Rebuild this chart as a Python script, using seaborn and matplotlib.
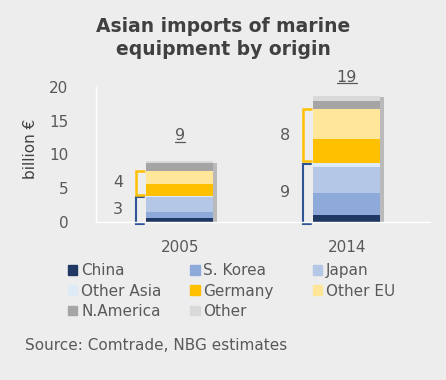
import numpy as np
import pandas as pd
import seaborn as sns
import matplotlib.pyplot as plt
from matplotlib.patches import Patch
from matplotlib.lines import Line2D
import matplotlib.patheffects as pe

# data (billion EUR)
years = ['2005', '2014']
origins = ['China', 'S. Korea', 'Japan', 'Other Asia',
           'Germany', 'Other EU', 'N.America', 'Other']
china = [0.6, 1.0]
s_korea = [0.9, 3.3]
japan = [2.2, 3.8]
other_asia = [0.1, 0.7]
germany = [1.8, 3.5]
other_eu = [2.0, 4.4]
n_america = [1.1, 1.3]
other = [0.3, 0.7]
asia_labels = ['3', '9']
eu_labels = ['4', '8']
total_labels = ['9', '19']

colors = ['#1f3864', '#8eaadb', '#b4c7e7', '#deebf7',
          '#ffc000', '#ffe699', '#a5a5a5', '#d9d9d9']
bg = '#ededed'
txt = '#595959'

df = pd.DataFrame({'year': years, 'China': china, 'S. Korea': s_korea,
                   'Japan': japan, 'Other Asia': other_asia,
                   'Germany': germany, 'Other EU': other_eu,
                   'N.America': n_america, 'Other': other})
cum = df[origins].cumsum(axis=1)
cum['year'] = df['year']

sns.set_style('white')
plt.rcParams['font.family'] = ['DejaVu Sans']

fig = plt.figure(figsize=(4.46, 3.8), dpi=100, facecolor=bg)
ax = fig.add_axes([0.216, 0.416, 0.749, 0.355])
ax.set_facecolor(bg)

# stacked bars: draw cumulative totals from the top down
for i in reversed(range(len(origins))):
    sns.barplot(data=cum, x='year', y=origins[i], color=colors[i],
                saturation=1, width=0.4, ax=ax, linewidth=0)
    if i == len(origins) - 1:
        for p in ax.patches:
            p.set_path_effects([pe.SimplePatchShadow(offset=(3, -1), shadow_rgbFace='#888888', alpha=0.5),
                                pe.Normal()])

ax.set_xlim(-0.5, 1.5)
ax.set_ylim(0, 20)
ax.set_yticks([0, 5, 10, 15, 20])
ax.set_xlabel('')
ax.set_ylabel('billion €', color='#404040', fontsize=11)
ax.yaxis.set_label_coords(-0.175, 0.54)
ax.tick_params(colors=txt, labelsize=11, length=0)
ax.tick_params(axis='y', pad=20)
ax.tick_params(axis='x', pad=13)
for s in ['top', 'right']:
    ax.spines[s].set_visible(False)
for s in ['left', 'bottom']:
    ax.spines[s].set_color('white')
    ax.spines[s].set_linewidth(1)

asia_top = cum['Other Asia'].values
eu_top = cum['Other EU'].values
tot = cum['Other'].values
offsets = [13, 8]
tot_texts = []
for k in range(len(years)):
    left = k - 0.2
    xb = left - 0.065
    xt = left - 0.015
    # Asia bracket
    lo, hi = 0.05, asia_top[k] - 0.15
    ax.plot([xt, xb, xb, xt], [lo - 0.3, lo - 0.3, hi, hi], color='#2f5597',
            lw=1.5, clip_on=False, solid_joinstyle='miter')
    ax.text(left - 0.17, (lo + hi) / 2, asia_labels[k], ha='center', va='center',
            color=txt, fontsize=11.5)
    # EU bracket
    lo, hi = asia_top[k] + 0.2, eu_top[k]
    ax.plot([xt, xb, xb, xt], [lo, lo, hi, hi], color='#ffc000',
            lw=1.8, clip_on=False, solid_joinstyle='miter')
    ax.text(left - 0.17, (lo + hi) / 2, eu_labels[k], ha='center', va='center',
            color=txt, fontsize=11.5)
    t = ax.annotate(total_labels[k], (k, tot[k]),
                    xytext=(0, offsets[k]), textcoords='offset points',
                    ha='center', va='bottom', color=txt, fontsize=11.5,
                    annotation_clip=False)
    tot_texts.append(t)

fig.text(0.5, 0.9, 'Asian imports of marine\nequipment by origin',
         ha='center', va='center', fontsize=13.5, fontweight='bold',
         color='#404040', linespacing=1.25)

# legend: three evenly spaced columns, filled row by row
handles = [Patch(color=c, label=o) for c, o in zip(colors, origins)]
col_x = [0.153, 0.427, 0.702]
for c in range(3):
    idx = list(range(c, len(origins), 3))
    leg = fig.legend([handles[i] for i in idx], [origins[i] for i in idx],
                     ncol=1, loc='upper left', bbox_to_anchor=(col_x[c], 0.307),
                     frameon=False, fontsize=11, labelcolor=txt,
                     handlelength=0.6, handleheight=0.6, handletextpad=0.25,
                     labelspacing=0.35, borderaxespad=0, borderpad=0)

fig.text(0.056, 0.092, 'Source: Comtrade, NBG estimates', ha='left',
         va='center', fontsize=11, color=txt)

# underline the totals
fig.canvas.draw()
inv = fig.transFigure.inverted()
for t in tot_texts:
    bb = t.get_window_extent().transformed(inv)
    fig.add_artist(Line2D([bb.x0, bb.x1], [bb.y0 + 0.004, bb.y0 + 0.004],
                          color=txt, lw=0.9, transform=fig.transFigure))

fig.savefig('out.png', dpi=100, facecolor=bg)
